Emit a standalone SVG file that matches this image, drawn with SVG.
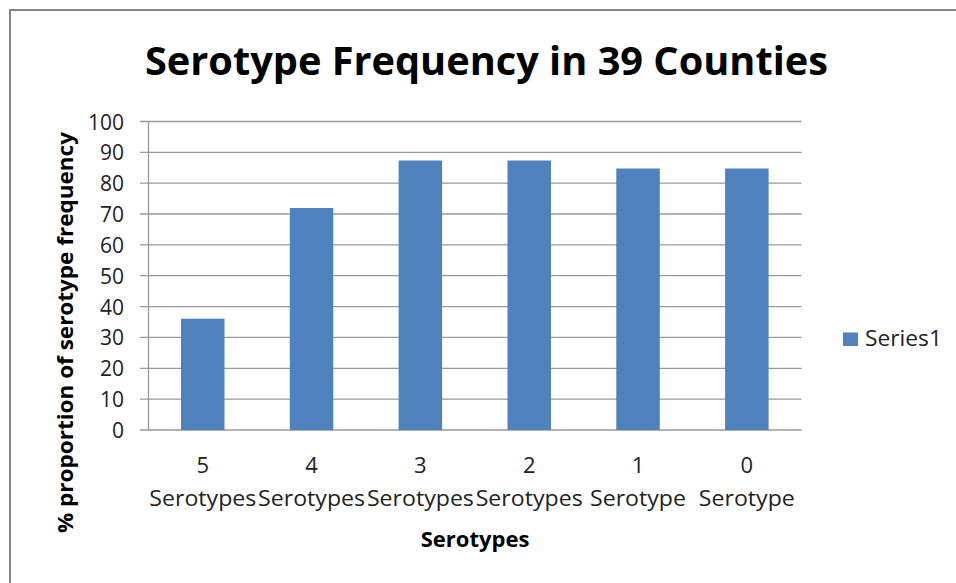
<svg xmlns="http://www.w3.org/2000/svg" width="956" height="583" viewBox="0 0 956 583">
  <style>
    .frame { fill: #ffffff; stroke: #868686; stroke-width: 2; }
    .grid { stroke: #9a9a9a; stroke-width: 1.3; fill: none; }
    .bar { fill: #4f81bd; }
    .title { font-family: "Open Sans", "Liberation Sans", sans-serif; font-weight: bold; font-size: 40px; fill: #000; }
    .axtitle { font-family: "Open Sans", "Liberation Sans", sans-serif; font-weight: bold; font-size: 22px; fill: #000; }
    .tick { font-family: "Open Sans", "Liberation Sans", sans-serif; font-size: 21px; fill: #222; }
    .cat { font-family: "Open Sans", "Liberation Sans", sans-serif; font-size: 22px; fill: #222; text-anchor: middle; }
    .legend { font-family: "Open Sans", "Liberation Sans", sans-serif; font-size: 22px; fill: #222; }
  </style>

  <!-- chart frame -->
  <rect class="frame" x="10" y="10" width="960" height="600"/>

  <!-- chart title -->
  <text id="title" class="title" x="145" y="75" textLength="683" lengthAdjust="spacingAndGlyphs">Serotype Frequency in 39 Counties</text>

  <!-- value axis: gridlines, ticks and labels -->
  <g id="value-axis">
    <path class="grid" d="M140 121.5H801.5M140 152.3H801.5M140 183.2H801.5M140 214H801.5M140 244.9H801.5M140 275.7H801.5M140 306.6H801.5M140 337.4H801.5M140 368.3H801.5M140 399.1H801.5M140 430H801.5M148.5 121.5V430"/>
    <g class="tick" text-anchor="end">
      <text x="124" y="129.5">100</text>
      <text x="124" y="160.3">90</text>
      <text x="124" y="191.2">80</text>
      <text x="124" y="222">70</text>
      <text x="124" y="252.9">60</text>
      <text x="124" y="283.7">50</text>
      <text x="124" y="314.6">40</text>
      <text x="124" y="345.4">30</text>
      <text x="124" y="376.3">20</text>
      <text x="124" y="407.1">10</text>
      <text x="124" y="438">0</text>
    </g>
  </g>

  <!-- value axis title -->
  <text id="y-title" class="axtitle" transform="translate(73 332.5) rotate(-90)" text-anchor="middle" textLength="401" lengthAdjust="spacingAndGlyphs">% proportion of serotype frequency</text>

  <!-- data series -->
  <g id="series1">
    <rect class="bar" x="181" y="318.7" width="43.5" height="111.3"/>
    <rect class="bar" x="289.8" y="208" width="43.5" height="222"/>
    <rect class="bar" x="398.6" y="160.5" width="43.5" height="269.5"/>
    <rect class="bar" x="507.5" y="160.5" width="43.5" height="269.5"/>
    <rect class="bar" x="616.3" y="168.5" width="43.5" height="261.5"/>
    <rect class="bar" x="725.1" y="168.5" width="43.5" height="261.5"/>
  </g>

  <!-- category labels -->
  <g id="categories" class="cat">
    <text x="202.8" y="473">5</text>
    <text x="202.8" y="506" textLength="107" lengthAdjust="spacingAndGlyphs">Serotypes</text>
    <text x="311.6" y="473">4</text>
    <text x="311.6" y="506" textLength="107" lengthAdjust="spacingAndGlyphs">Serotypes</text>
    <text x="420.4" y="473">3</text>
    <text x="420.4" y="506" textLength="107" lengthAdjust="spacingAndGlyphs">Serotypes</text>
    <text x="529.2" y="473">2</text>
    <text x="529.2" y="506" textLength="107" lengthAdjust="spacingAndGlyphs">Serotypes</text>
    <text x="638" y="473">1</text>
    <text x="638" y="506" textLength="96" lengthAdjust="spacingAndGlyphs">Serotype</text>
    <text x="746.8" y="473">0</text>
    <text x="746.8" y="506" textLength="96" lengthAdjust="spacingAndGlyphs">Serotype</text>
  </g>

  <!-- category axis title -->
  <text id="x-title" class="axtitle" x="475" y="547" text-anchor="middle">Serotypes</text>

  <!-- legend -->
  <g id="legend">
    <rect class="bar" x="843" y="332.5" width="15" height="13.5"/>
    <text class="legend" x="865" y="346" textLength="77" lengthAdjust="spacingAndGlyphs">Series1</text>
  </g>
</svg>
